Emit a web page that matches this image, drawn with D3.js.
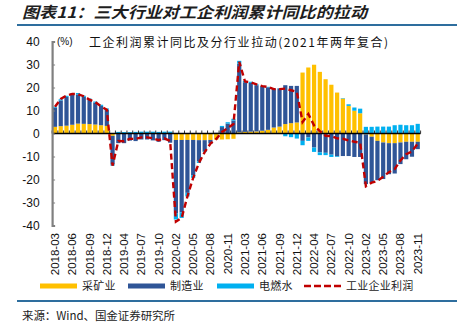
<!DOCTYPE html>
<html><head><meta charset="utf-8">
<script src="https://cdn.jsdelivr.net/npm/d3@7"></script>
<style>body{margin:0;background:#fff} svg{display:block}</style>
</head><body><svg id="c" width="457" height="328"></svg>
<script>
const months = [
 "2018-03","2018-04","2018-05","2018-06","2018-07","2018-08","2018-09","2018-10","2018-11","2018-12",
 "2019-02","2019-03","2019-04","2019-05","2019-06","2019-07","2019-08","2019-09","2019-10","2019-11","2019-12",
 "2020-02","2020-03","2020-04","2020-05","2020-06","2020-07","2020-08","2020-09","2020-10","2020-11","2020-12",
 "2021-02","2021-03","2021-04","2021-05","2021-06","2021-07","2021-08","2021-09","2021-10","2021-11","2021-12",
 "2022-02","2022-03","2022-04","2022-05","2022-06","2022-07","2022-08","2022-09","2022-10","2022-11","2022-12",
 "2023-02","2023-03","2023-04","2023-05","2023-06","2023-07","2023-08","2023-09","2023-10","2023-11"];
const mining = [
 2.9,3.2,3.4,3.8,4.3,4.2,4.1,3.9,3.6,3.3,
 -1.0,0,0,0,0,0,0,0,0,0,0,
 -2.8,-2.8,-2.8,-2.8,-2.9,-2.9,-2.8,-2.7,-2.6,-2.5,-2.3,
 0.5,0.7,0.8,0.9,1.2,1.6,2.6,3.0,4.1,4.5,4.8,
 26.5,28.7,29.9,26.8,23.6,21.2,17.8,15.2,12.0,9.9,8.8,
 -0.4,-1.4,-3.2,-3.9,-4.2,-4.2,-3.9,-3.6,-3.6,-3.6];
const manufacturing = [
 8.3,11.2,12.5,13.1,12.7,11.7,10.6,9.5,8.4,7.1,
 -12.5,-4.2,-4.2,-3.1,-3.3,-2.6,-2.6,-3.0,-3.6,-2.9,-4.0,
 -32.0,-31.5,-23.0,-15.3,-9.2,-4.8,-1.4,0.3,2.8,4.3,5.6,
 29.9,21.6,21.2,20.1,19.2,18.5,16.9,16.6,16.9,16.2,15.9,
 -3.2,-1.7,-6.1,-8.2,-8.4,-9.2,-9.9,-9.8,-9.8,-10.2,-10.2,
 -21.6,-19.9,-17.1,-15.9,-13.5,-13.2,-9.4,-7.6,-6.5,-3.2];
const utilities = [
 0.5,0.5,0.5,0.6,0.6,0.5,0.5,0.5,0.5,0.5,
 -0.5,0.7,0.6,0.6,0.7,0.8,0.8,0.8,0.7,0.8,0.8,
 -2.6,-2.4,-1.6,-1.2,-0.7,-0.4,-0.2,0.0,0.5,0.6,0.8,
 1.2,0.6,0.5,0.4,0.3,0.2,0.1,0.1,-1.2,-1.6,-2.2,
 -1.9,-1.5,-1.9,-1.2,-1.0,-1.0,-0.3,0.2,0.7,1.4,2.0,
 2.9,2.9,3.0,3.0,3.0,3.6,3.8,3.6,3.6,4.2];
const profit = [
 11.6,15.0,16.5,17.2,17.1,16.2,14.7,13.6,11.8,10.3,
 -14.0,-3.3,-3.4,-2.3,-2.4,-1.7,-1.7,-2.1,-2.9,-2.1,-3.3,
 -38.3,-36.7,-27.4,-19.3,-12.8,-8.1,-4.4,-2.4,0.7,2.4,4.1,
 31.2,22.6,22.2,21.4,20.6,20.2,19.3,19.3,19.5,18.8,18.1,
 5.0,8.5,3.5,1.0,-1.0,-1.1,-2.1,-2.3,-3.0,-3.6,-4.0,
 -22.9,-21.4,-20.6,-18.8,-16.8,-15.5,-11.7,-9.0,-7.8,-4.4];
const xTickLabels = ["2018-03","2018-06","2018-09","2018-12","2019-04","2019-07","2019-10","2020-02","2020-05","2020-08","2020-11",
 "2021-03","2021-06","2021-09","2021-12","2022-04","2022-07","2022-10","2023-02","2023-05","2023-08","2023-11"];
const yTicks = [-40,-30,-20,-10,0,10,20,30,40];
const seriesNames = ["采矿业","制造业","电燃水"];
const lineName = "工业企业利润";
const colors = {"采矿业":"#FFC000","制造业":"#2F5597","电燃水":"#00B0F0"};
const lineColor = "#C00000";

const table = months.map((m,i)=>({month:m,"采矿业":mining[i],"制造业":manufacturing[i],"电燃水":utilities[i],profit:profit[i]}));

const svg = d3.select("#c");
const cjk = "'Noto Sans CJK SC', sans-serif";
const latin = "'Liberation Sans', Arial, sans-serif";

// title
svg.append("text").attr("x",22).attr("y",18).attr("font-family",cjk).attr("font-weight","bold")
  .attr("font-style","italic").attr("font-size",15.5).attr("fill","#1e1e1e")
  .attr("textLength",345).attr("lengthAdjust","spacingAndGlyphs").text("图表11：三大行业对工企利润累计同比的拉动");
svg.append("line").attr("x1",17).attr("x2",457).attr("y1",25).attr("y2",25).attr("stroke","#2e6e9e").attr("stroke-width",2);
svg.append("line").attr("x1",17).attr("x2",457).attr("y1",301).attr("y2",301).attr("stroke","#2e6e9e").attr("stroke-width",2);

const x = d3.scaleBand().domain(months).range([52.1,420.6]).paddingInner(0.27).paddingOuter(0.135);
const y = d3.scaleLinear().domain([-40,40]).range([225.5,41.5]);

const stack = d3.stack().keys(seriesNames).offset(d3.stackOffsetDiverging);
const layers = stack(table);

svg.append("g").selectAll("g").data(layers).join("g").attr("fill",d=>colors[d.key])
  .selectAll("rect").data(d=>d).join("rect")
  .attr("x",d=>x(d.data.month)).attr("width",x.bandwidth())
  .attr("y",d=>y(Math.max(d[0],d[1]))).attr("height",d=>Math.abs(y(d[0])-y(d[1])));

// zero line with ticks
const zg = svg.append("g");
zg.append("line").attr("x1",x.range()[0]).attr("x2",x.range()[1]).attr("y1",y(0)).attr("y2",y(0))
  .attr("stroke","#000").attr("stroke-width",1.3);
zg.selectAll("line.t").data(d3.range(months.length+1)).join("line").attr("class","t")
  .attr("x1",i=>x.range()[0]+i*x.step()).attr("x2",i=>x.range()[0]+i*x.step())
  .attr("y1",y(0)).attr("y2",y(0)-3).attr("stroke","#000").attr("stroke-width",0.8);

// y axis
const ya = svg.append("g").attr("transform",`translate(${x.range()[0]},0)`)
  .call(d3.axisLeft(y).tickValues(yTicks).tickSize(-3).tickPadding(12.5).tickFormat(d=>String(d)));
ya.select(".domain").attr("stroke","#808080").attr("stroke-width",2.2);
ya.selectAll(".tick line").attr("stroke","#808080").attr("stroke-width",1);
ya.selectAll("text").attr("font-family",latin).attr("font-size",12).attr("fill","#111");

// line
const line = d3.line().x(d=>x(d.month)+x.bandwidth()/2).y(d=>y(d.profit));
svg.append("path").datum(table).attr("d",line).attr("fill","none").attr("stroke",lineColor)
  .attr("stroke-width",2.4).attr("stroke-dasharray","6,3.5");

// x labels
svg.append("g").selectAll("text").data(xTickLabels).join("text")
  .attr("transform",d=>`translate(${x(d)+x.bandwidth()/2},233) rotate(-90)`)
  .attr("text-anchor","end").attr("dy","0.35em").attr("font-family",latin).attr("font-size",11.5)
  .attr("fill","#111").text(d=>d);

// unit + subtitle
svg.append("text").attr("x",57).attr("y",45).attr("font-family",latin).attr("font-size",10).attr("fill","#111").text("(%)");
svg.append("text").attr("x",89).attr("y",46.5).attr("font-family",cjk).attr("font-size",12).attr("fill","#111")
  .attr("textLength",299).attr("lengthAdjust","spacing").text("工企利润累计同比及分行业拉动(2021年两年复合)");

// legend
const legX = [40,128,217,304];
const legItems = seriesNames.concat([lineName]);
const lg = svg.append("g");
legItems.forEach((name,i)=>{
  if(i<3){
    lg.append("rect").attr("x",legX[i]).attr("y",283.5).attr("width",37).attr("height",5).attr("fill",colors[name]);
  } else {
    lg.append("line").attr("x1",legX[i]).attr("x2",legX[i]+37).attr("y1",286).attr("y2",286)
      .attr("stroke",lineColor).attr("stroke-width",2.4).attr("stroke-dasharray","7,3");
  }
  lg.append("text").attr("x",legX[i]+42).attr("y",290).attr("font-family",cjk).attr("font-size",11)
    .attr("fill","#222").attr("textLength",name.length*11.2).attr("lengthAdjust","spacing").text(name);
});

// source
svg.append("text").attr("x",22).attr("y",320).attr("font-family",cjk).attr("font-size",11.5).attr("fill","#222")
  .attr("textLength",153).attr("lengthAdjust","spacing").text("来源：Wind、国金证券研究所");
</script></body></html>
